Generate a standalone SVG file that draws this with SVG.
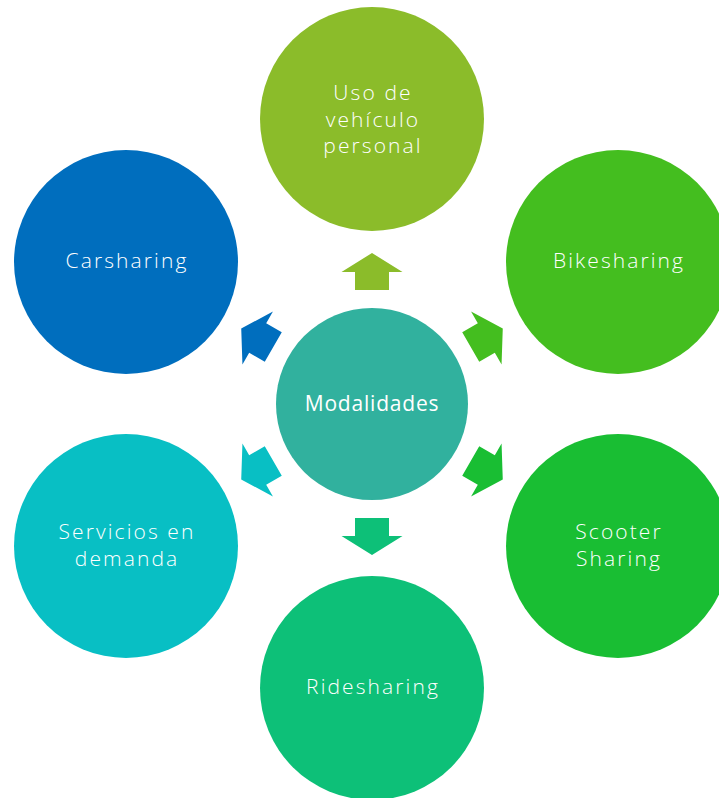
<svg xmlns="http://www.w3.org/2000/svg" width="719" height="798" viewBox="0 0 719 798">
<defs>
<style>
.t{font-family:"Open Sans","Liberation Sans",sans-serif;font-weight:300;font-size:21px;letter-spacing:2.1px;fill:#fff;text-anchor:middle;dominant-baseline:central}
.c{font-family:"Open Sans","Liberation Sans",sans-serif;font-weight:400;font-size:21px;letter-spacing:0.8px;fill:#fff;text-anchor:middle;dominant-baseline:central}
</style>
<path id="arr" d="M114,-17 L132,-17 L132,-30.5 L151,0 L132,30.5 L132,17 L114,17 Z"/>
</defs>
<rect width="719" height="798" fill="#fff"/>
<g id="connectors">
<use href="#arr" transform="translate(372,404) rotate(-90)" fill="#8BBC2A"/>
<use href="#arr" transform="translate(372,404) rotate(-30)" fill="#44BE1F"/>
<use href="#arr" transform="translate(372,404) rotate(30)" fill="#19BE33"/>
<use href="#arr" transform="translate(372,404) rotate(90)" fill="#0DC078"/>
<use href="#arr" transform="translate(372,404) rotate(150)" fill="#08BFC4"/>
<use href="#arr" transform="translate(372,404) rotate(210)" fill="#006EBE"/>
</g>
<g id="center">
<circle cx="372" cy="404" r="96" fill="#31B19E"/>
<text class="c" x="372" y="403">Modalidades</text>
</g>
<g id="n-uso">
<circle cx="372" cy="119" r="112" fill="#8BBC2A"/>
<text class="t" x="373" y="92">Uso de</text>
<text class="t" x="373" y="118.5">vehículo</text>
<text class="t" x="373" y="145">personal</text>
</g>
<g id="n-bike">
<circle cx="618" cy="262" r="112" fill="#44BE1F"/>
<text class="t" x="619" y="260">Bikesharing</text>
</g>
<g id="n-scooter">
<circle cx="618" cy="546" r="112" fill="#19BE33"/>
<text class="t" x="619" y="531">Scooter</text>
<text class="t" x="619" y="557.5">Sharing</text>
</g>
<g id="n-ride">
<circle cx="372" cy="688" r="112" fill="#0DC078"/>
<text class="t" x="373" y="686">Ridesharing</text>
</g>
<g id="n-servicios">
<circle cx="126" cy="546" r="112" fill="#08BFC4"/>
<text class="t" x="127" y="531">Servicios en</text>
<text class="t" x="127" y="557.5">demanda</text>
</g>
<g id="n-car">
<circle cx="126" cy="262" r="112" fill="#006EBE"/>
<text class="t" x="127" y="260">Carsharing</text>
</g>
</svg>
